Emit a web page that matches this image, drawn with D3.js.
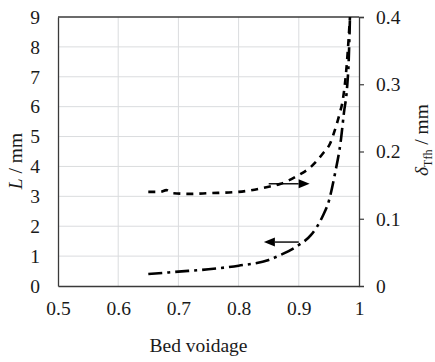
<!DOCTYPE html>
<html>
<head>
<meta charset="utf-8">
<script src="https://cdn.jsdelivr.net/npm/d3@7/dist/d3.min.js"></script>
<style>
  html, body { margin: 0; padding: 0; background: #fff; }
  svg { display: block; }
  text { font-family: "Liberation Serif", "Times New Roman", serif; fill: #1a1a1a; }
</style>
</head>
<body>
<svg id="chart" width="435" height="362"></svg>
<script>
// Bed voidage vs. film length L (left axis) and film thickness δTfh (right axis)
const voidageL = [0.65, 0.70, 0.75, 0.80, 0.85, 0.87, 0.90, 0.92, 0.94, 0.95, 0.96, 0.97, 0.975, 0.98, 0.983, 0.985];
const lengthL  = [0.40, 0.48, 0.56, 0.68, 0.87, 1.04, 1.37, 1.70, 2.35, 2.85, 3.75, 4.90, 5.80, 6.60, 7.60, 9.00];

const voidageD = [0.65, 0.67, 0.68, 0.69, 0.72, 0.75, 0.80, 0.85, 0.87, 0.90, 0.92, 0.94, 0.952, 0.96, 0.968, 0.973, 0.98, 0.985];
const deltaD   = [0.140, 0.140, 0.1425, 0.138, 0.137, 0.138, 0.140, 0.1475, 0.152, 0.165, 0.177, 0.197, 0.212, 0.232, 0.257, 0.276, 0.333, 0.400];

const xTicks = [0.5, 0.6, 0.7, 0.8, 0.9, 1];
const yLeftTicks = [0, 1, 2, 3, 4, 5, 6, 7, 8, 9];
const yRightTicks = [0, 0.1, 0.2, 0.3, 0.4];

// Arrows pointing each curve to its axis: [x0, x1, y] in data units
const arrowD = [0.85, 0.918, 0.152];  // toward the right axis
const arrowL = [0.90, 0.842, 1.47];   // toward the left axis

const W = 435, H = 362;
const m = { top: 17, right: 76, bottom: 76, left: 58 };
const iw = W - m.left - m.right, ih = H - m.top - m.bottom;

const svg = d3.select("#chart");
const g = svg.append("g").attr("transform", `translate(${m.left},${m.top})`);

const x = d3.scaleLinear().domain([0.5, 1]).range([0, iw]);
const yL = d3.scaleLinear().domain([0, 9]).range([ih, 0]);
const yR = d3.scaleLinear().domain([0, 0.4]).range([ih, 0]);

// gridlines
g.append("g").selectAll("line").data(xTicks.slice(1, -1)).join("line")
  .attr("x1", d => x(d)).attr("x2", d => x(d)).attr("y1", 0).attr("y2", ih)
  .attr("stroke", "#dadcde").attr("stroke-width", 1);
g.append("g").selectAll("line").data(yLeftTicks.slice(1, -1)).join("line")
  .attr("x1", 0).attr("x2", iw).attr("y1", d => yL(d)).attr("y2", d => yL(d))
  .attr("stroke", "#dadcde").attr("stroke-width", 1);

// axes
const fs = 19.5;
const xAxis = g.append("g").attr("transform", `translate(0,${ih})`)
  .call(d3.axisBottom(x).tickValues(xTicks).tickSize(0).tickPadding(15).tickFormat(d3.format("")));
const leftAxis = g.append("g")
  .call(d3.axisLeft(yL).tickValues(yLeftTicks).tickSize(0).tickPadding(18).tickFormat(d3.format("")));
const rightAxis = g.append("g").attr("transform", `translate(${iw},0)`)
  .call(d3.axisRight(yR).tickValues(yRightTicks).tickSize(5).tickPadding(12).tickFormat(d3.format("")));
[xAxis, leftAxis, rightAxis].forEach(a => {
  a.attr("font-family", null).attr("font-size", null);
  a.selectAll("text").attr("font-size", fs).attr("fill", "#1a1a1a");
  a.select(".domain").attr("stroke", "#3a3a3a").attr("stroke-width", 1.3);
  a.selectAll(".tick line").attr("stroke", "#3a3a3a").attr("stroke-width", 1.2);
});
rightAxis.selectAll(".tick").filter(d => d === 0).select("line").remove();
// top border
g.append("line").attr("x1", 0).attr("x2", iw).attr("y1", 0).attr("y2", 0)
  .attr("stroke", "#3a3a3a").attr("stroke-width", 1.3);

// curves
const lineL = d3.line().x((d, i) => x(voidageL[i])).y(d => yL(d)).curve(d3.curveMonotoneX);
const lineD = d3.line().x((d, i) => x(voidageD[i])).y(d => yR(d)).curve(d3.curveMonotoneX);

g.append("path").attr("d", lineL(lengthL))
  .attr("fill", "none").attr("stroke", "#000").attr("stroke-width", 2.6)
  .attr("stroke-dasharray", "14,5,3,5");
g.append("path").attr("d", lineD(deltaD))
  .attr("fill", "none").attr("stroke", "#000").attr("stroke-width", 2.6)
  .attr("stroke-dasharray", "7,6");

// arrows
function arrow(x0, x1, yPix) {
  const dir = Math.sign(x1 - x0);
  const head = 11, half = 4.5;
  g.append("line").attr("x1", x0).attr("x2", x1 - dir * head).attr("y1", yPix).attr("y2", yPix)
    .attr("stroke", "#000").attr("stroke-width", 1.4);
  g.append("path")
    .attr("d", `M${x1},${yPix} L${x1 - dir * head},${yPix - half} L${x1 - dir * head},${yPix + half} Z`)
    .attr("fill", "#000");
}
arrow(x(arrowD[0]), x(arrowD[1]), yR(arrowD[2]));
arrow(x(arrowL[0]), x(arrowL[1]), yL(arrowL[2]));

// axis titles
svg.append("text").attr("x", m.left + iw / 2 - 10).attr("y", 352)
  .attr("text-anchor", "middle").attr("font-size", fs).text("Bed voidage");

const tl = svg.append("text").attr("transform", "translate(22,161) rotate(-90)")
  .attr("text-anchor", "middle").attr("font-size", fs);
tl.append("tspan").attr("font-style", "italic").text("L");
tl.append("tspan").text(" / mm");

const tr = svg.append("text").attr("transform", "translate(428,140) rotate(-90)")
  .attr("text-anchor", "middle").attr("font-size", fs);
tr.append("tspan").attr("font-style", "italic").text("δ");
tr.append("tspan").attr("font-size", 12).attr("dy", 4).text("Tfh");
tr.append("tspan").attr("dy", -4).text(" / mm");
</script>
</body>
</html>
